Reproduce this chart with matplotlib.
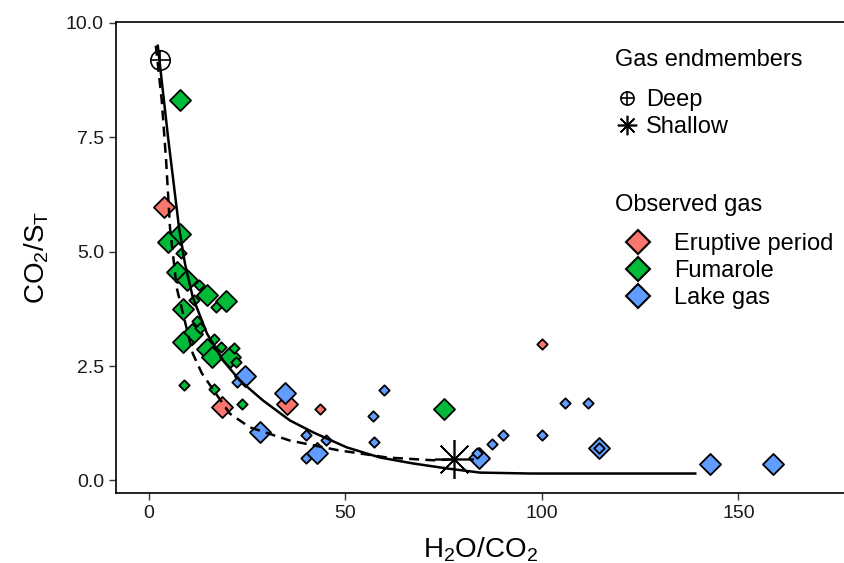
import numpy as np
import matplotlib
matplotlib.use('Agg')
import matplotlib.pyplot as plt
from matplotlib.lines import Line2D
from matplotlib.legend_handler import HandlerTuple

plt.rcParams['font.family'] = ['Liberation Sans', 'DejaVu Sans']
plt.rcParams['mathtext.fontset'] = 'custom'
plt.rcParams['mathtext.rm'] = 'Liberation Sans'
plt.rcParams['mathtext.it'] = 'Liberation Sans:italic'

# mixing curves
solid_x = [2.3, 4.9, 7.7, 9.2, 11.2, 14.8, 18.9, 23.2, 29.0, 35.9, 41.8, 50.4,
           58.8, 67.2, 75.9, 84.3, 97.0, 139.0]
solid_y = [9.5, 7.5, 5.52, 4.74, 4.0, 3.21, 2.62, 2.18, 1.75, 1.31, 1.05, 0.72,
           0.50, 0.37, 0.26, 0.17, 0.15, 0.15]
dash_x = [1.8, 3.3, 4.4, 5.4, 7.1, 11.2, 13.5, 20.6, 25.7, 35.9, 48.1, 60.6, 72.3, 77.6]
dash_y = [9.5, 8.3, 7.0, 5.52, 4.21, 2.77, 2.34, 1.46, 1.16, 0.87, 0.66, 0.50, 0.44, 0.46]

# gas endmembers
deep_x, deep_y = 2.8, 9.19
shallow_x, shallow_y = 77.7, 0.46

# observed gas: eruptive period
erupt_big_x = [3.9, 18.5, 35.1]
erupt_big_y = [5.98, 1.60, 1.67]
erupt_small_x = [43.5, 100.0]
erupt_small_y = [1.57, 2.99]

# fumarole
fum_big_x = [7.9, 7.9, 5.0, 7.1, 9.8, 14.9, 19.6, 8.8, 10.9, 8.8, 14.7, 16.0, 20.6, 75.0]
fum_big_y = [8.32, 5.39, 5.20, 4.55, 4.39, 4.06, 3.93, 3.75, 3.20, 3.02, 2.88, 2.69, 2.69, 1.55]
fum_small_x = [8.1, 12.8, 11.5, 17.2, 12.3, 13.0, 16.6, 18.3, 21.7, 22.2, 8.9, 16.6, 23.6]
fum_small_y = [4.98, 4.28, 3.95, 3.78, 3.48, 3.33, 3.09, 2.91, 2.89, 2.58, 2.09, 2.00, 1.66]

# lake gas
lake_big_x = [24.5, 34.6, 28.3, 42.8, 84.0, 114.4, 142.8, 158.8]
lake_big_y = [2.29, 1.90, 1.05, 0.59, 0.50, 0.70, 0.35, 0.35]
lake_small_x = [22.5, 40.0, 40.0, 45.1, 59.8, 57.0, 57.3, 83.5, 87.3, 90.1, 100.0,
                105.9, 111.7, 114.4]
lake_small_y = [2.15, 0.48, 1.00, 0.89, 1.98, 1.40, 0.84, 0.59, 0.80, 1.00, 1.00,
                1.70, 1.69, 0.70]

c_erupt, c_fum, c_lake = '#F8766D', '#00BA38', '#619CFF'
big, small = 115, 28

fig = plt.figure(figsize=(8.45, 5.63), dpi=100)
ax = fig.add_axes([0.137, 0.124, 0.863, 0.837])

for xs, ys, c in [(erupt_big_x, erupt_big_y, c_erupt), (fum_big_x, fum_big_y, c_fum),
                  (lake_big_x, lake_big_y, c_lake)]:
    ax.scatter(xs, ys, s=big, marker='D', c=c, edgecolors='black', linewidths=1.3, zorder=3)
for xs, ys, c in [(erupt_small_x, erupt_small_y, c_erupt), (fum_small_x, fum_small_y, c_fum),
                  (lake_small_x, lake_small_y, c_lake)]:
    ax.scatter(xs, ys, s=small, marker='D', c=c, edgecolors='black', linewidths=1.3, zorder=4)

ax.plot(solid_x, solid_y, color='black', lw=1.8, zorder=5)
ax.plot(dash_x, dash_y, color='black', lw=1.8, ls=(0, (4, 2.5)), zorder=5)

ax.plot(deep_x, deep_y, marker='o', ms=14, mfc='none', mec='black', mew=1.2, ls='none', zorder=6)
ax.plot(deep_x, deep_y, marker='+', ms=14, mec='black', mew=1.2, ls='none', zorder=6)
ax.plot(shallow_x, shallow_y, marker=(8, 2, 0), ms=28, mec='black', mew=1.2, ls='none', zorder=6)

ax.set_xlim(-8.4, 177.1)
ax.set_ylim(-0.28, 10.02)
ax.set_xticks([0, 50, 100, 150])
ax.set_yticks([0, 2.5, 5.0, 7.5, 10.0])
ax.set_yticklabels(['0.0', '2.5', '5.0', '7.5', '10.0'])
ax.spines['right'].set_visible(False)
for s in ['left', 'bottom', 'top']:
    ax.spines[s].set_linewidth(1.2)
ax.tick_params(direction='out', length=5, width=1.0, labelsize=14, colors='#333333',
               labelcolor='#1a1a1a')

ax.set_xlabel(r'H$_2$O/CO$_2$', fontsize=20, labelpad=10)
ax.set_ylabel(r'CO$_2$/S$_\mathrm{T}$', fontsize=20, labelpad=11)

# legends
fs = 17
fig.text(615 / 845, 1 - 60 / 563, 'Gas endmembers', fontsize=fs, va='center', ha='left')
fig.text(615 / 845, 1 - 205 / 563, 'Observed gas', fontsize=fs, va='center', ha='left')

h_deep = (Line2D([], [], marker='o', ms=9.5, mfc='none', mec='black', mew=1.2, ls='none'),
          Line2D([], [], marker='+', ms=9.5, mec='black', mew=1.2, ls='none'))
h_shal = Line2D([], [], marker=(8, 2, 0), ms=14, mec='black', mew=1.2, ls='none')
leg1 = fig.legend([h_deep, h_shal], ['Deep', 'Shallow'],
                  handler_map={tuple: HandlerTuple(ndivide=1)},
                  loc='upper left', bbox_to_anchor=(615 / 845, 1 - 89 / 563), frameon=False,
                  fontsize=fs, handlelength=1.0, handletextpad=0.3, labelspacing=0.22,
                  borderpad=0, borderaxespad=0)
obs_h = [Line2D([], [], marker='D', ms=12.5, mfc=c, mec='black', mew=1.5, ls='none')
         for c in [c_erupt, c_fum, c_lake]]
leg2 = fig.legend(obs_h, ['Eruptive period', 'Fumarole', 'Lake gas'],
                  loc='upper left', bbox_to_anchor=(615 / 845, 1 - 233 / 563), frameon=False,
                  fontsize=fs, handlelength=1.95, handletextpad=0.55, labelspacing=0.22,
                  borderpad=0, borderaxespad=0)

fig.savefig('out.png', dpi=100)
